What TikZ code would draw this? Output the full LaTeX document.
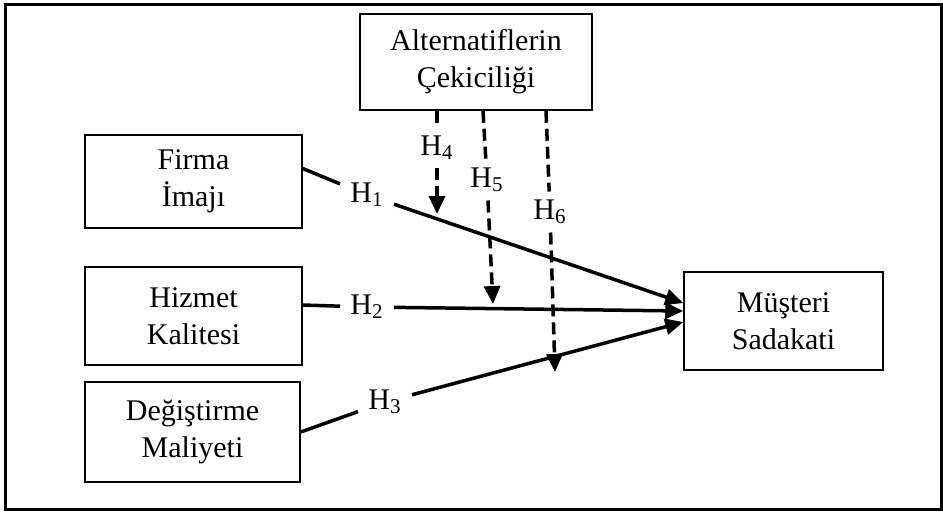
\documentclass[tikz,border=0pt]{standalone}
\usepackage{fontspec}
\setmainfont{Liberation Serif}
\usetikzlibrary{arrows.meta}

\begin{document}
\begin{tikzpicture}[
  x=0.5pt, y=-0.5pt,
  every node/.style={font=\fontsize{15}{18.5}\selectfont, align=center,
                     inner sep=2pt},
  factor/.style={draw, line width=0.75pt, fill=white, inner sep=0pt},
  hyp/.style={inner xsep=5pt, inner ysep=4pt},
  link/.style={line width=1.75pt},
  effect/.style={link, -{Triangle[length=9pt, width=8pt]}},
  moderator/.style={effect, dash pattern=on 6pt off 3pt},
]
% --- Frame -----------------------------------------------------------
\useasboundingbox (0,0) rectangle (943,511);
\draw[line width=1.5pt] (5,4) rectangle (941,509);

% --- Factors ---------------------------------------------------------
\node[factor, minimum width=116pt, minimum height=48pt]
  (alt) at (476,62) {Alternatiflerin\\Çekiciliği};
\node[factor, minimum width=108.5pt, minimum height=46.5pt]
  (firma) at (193.5,181.5) {Firma\\İmajı};
\node[factor, minimum width=108.5pt, minimum height=49pt]
  (hizmet) at (193.5,316) {Hizmet\\Kalitesi};
\node[factor, minimum width=107.5pt, minimum height=50pt]
  (degis) at (192.5,432) {Değiştirme\\Maliyeti};
\node[factor, minimum width=99.5pt, minimum height=49pt]
  (musteri) at (783.5,321) {Müşteri\\Sadakati};

% --- Hypothesis labels -----------------------------------------------
\node[hyp] (h1) at (367,195) {H\textsubscript{1}};
\node[hyp] (h2) at (367,307) {H\textsubscript{2}};
\node[hyp] (h3) at (385,402) {H\textsubscript{3}};
\node[hyp] (h4) at (437,148) {H\textsubscript{4}};
\node[hyp] (h5) at (487,180) {H\textsubscript{5}};
\node[hyp] (h6) at (550,212) {H\textsubscript{6}};

% tips of the moderating arrows, on the main paths
\coordinate (t4) at (437,214);
\coordinate (t5) at (493,304);
\coordinate (t6) at (555,372);

% --- Main effects: H1--H3 --------------------------------------------
\draw[link] ([yshift=6.5pt]firma.east) -- (h1);
\draw[effect] (h1) -- ([yshift=9pt]musteri.west);
\draw[link] ([yshift=5.5pt]hizmet.east) -- (h2);
\draw[effect] (h2) -- ([yshift=5pt]musteri.west);
\draw[link] (degis.east) -- (h3);
\draw[effect] (h3) -- ([yshift=-0.5pt]musteri.west);

% --- Moderating effects: H4--H6 --------------------------------------
\draw[moderator, -] ([xshift=-19.5pt]alt.south) -- (h4);
\draw[moderator] (h4) -- (t4);
\draw[moderator, -] ([xshift=3.5pt]alt.south) -- (h5);
\draw[moderator] (h5) -- (t5);
\draw[moderator, -] ([xshift=35pt]alt.south) -- (h6);
\draw[moderator] (h6) -- (t6);
\end{tikzpicture}
\end{document}
